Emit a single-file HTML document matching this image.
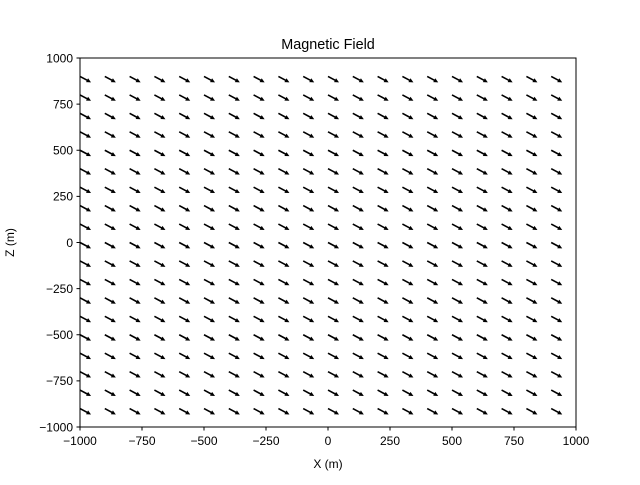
<!DOCTYPE html>
<html><head><meta charset="utf-8"><style>
body{margin:0;background:#fff}
text{font-family:"Liberation Sans","DejaVu Sans",sans-serif;fill:#000}
</style></head><body>
<svg id="chart" width="640" height="480" xmlns="http://www.w3.org/2000/svg">
<rect width="640" height="480" fill="#fff"/>
<text x="328" y="49" font-size="14.4" text-anchor="middle">Magnetic Field</text>
<g id="arrows"></g>
<rect x="80" y="58" width="496" height="369" fill="none" stroke="#000" stroke-width="1"/>
<g id="ticks"></g>
<text x="328" y="468" font-size="12" text-anchor="middle">X (m)</text>
<text transform="translate(14,242.5) rotate(-90)" font-size="12" text-anchor="middle">Z (m)</text>
</svg>
<script>
const xTicks=[-1000,-750,-500,-250,0,250,500,750,1000];
const yTicks=[-1000,-750,-500,-250,0,250,500,750,1000];
const xGrid=[-1000,-900,-800,-700,-600,-500,-400,-300,-200,-100,0,100,200,300,400,500,600,700,800,900];
const zGrid=[900,800,700,600,500,400,300,200,100,0,-100,-200,-300,-400,-500,-600,-700,-800,-900];
const vecU=[0.88];
const vecW=[-0.47];
const NS="http://www.w3.org/2000/svg";
const X=v=>80+(v+1000)*496/2000;
const Y=v=>427-(v+1000)*369/2000;
const ag=document.getElementById('arrows');
const L=12.5;
xGrid.forEach(x=>zGrid.forEach(z=>{
  const ux=vecU[0],uy=-vecW[0];
  const n=Math.hypot(ux,uy),dx=ux/n,dy=uy/n,px=-dy,py=dx;
  const x0=X(x),y0=Y(z);
  const s=0.8,h=2.2,hl=4.5;
  const tx=x0+dx*L,ty=y0+dy*L,bx=x0+dx*(L-hl),by=y0+dy*(L-hl);
  const pts=[[x0+px*s,y0+py*s],[bx+px*s,by+py*s],[bx+px*h,by+py*h],[tx,ty],[bx-px*h,by-py*h],[bx-px*s,by-py*s],[x0-px*s,y0-py*s]];
  const p=document.createElementNS(NS,'polygon');
  p.setAttribute('points',pts.map(q=>q[0].toFixed(2)+','+q[1].toFixed(2)).join(' '));
  p.setAttribute('fill','#000');
  
  
  ag.appendChild(p);
}));
const tg=document.getElementById('ticks');
xTicks.forEach(v=>{
  const l=document.createElementNS(NS,'line');
  l.setAttribute('x1',X(v));l.setAttribute('x2',X(v));l.setAttribute('y1',427);l.setAttribute('y2',430.5);l.setAttribute('stroke','#000');
  
  
  tg.appendChild(l);
  const t=document.createElementNS(NS,'text');
  t.setAttribute('x',X(v));t.setAttribute('y',445);t.setAttribute('font-size','12');t.setAttribute('text-anchor','middle');
  t.textContent=String(v).replace('-','\u2212');
  
  
  tg.appendChild(t);
});
yTicks.forEach(v=>{
  const l=document.createElementNS(NS,'line');
  l.setAttribute('x1',76.5);l.setAttribute('x2',80);l.setAttribute('y1',Y(v));l.setAttribute('y2',Y(v));l.setAttribute('stroke','#000');
  
  
  tg.appendChild(l);
  const t=document.createElementNS(NS,'text');
  t.setAttribute('x',73);t.setAttribute('y',Y(v)+4.3);t.setAttribute('font-size','12');t.setAttribute('text-anchor','end');
  t.textContent=String(v).replace('-','\u2212');
  
  
  tg.appendChild(t);
});
</script>
</body></html>
